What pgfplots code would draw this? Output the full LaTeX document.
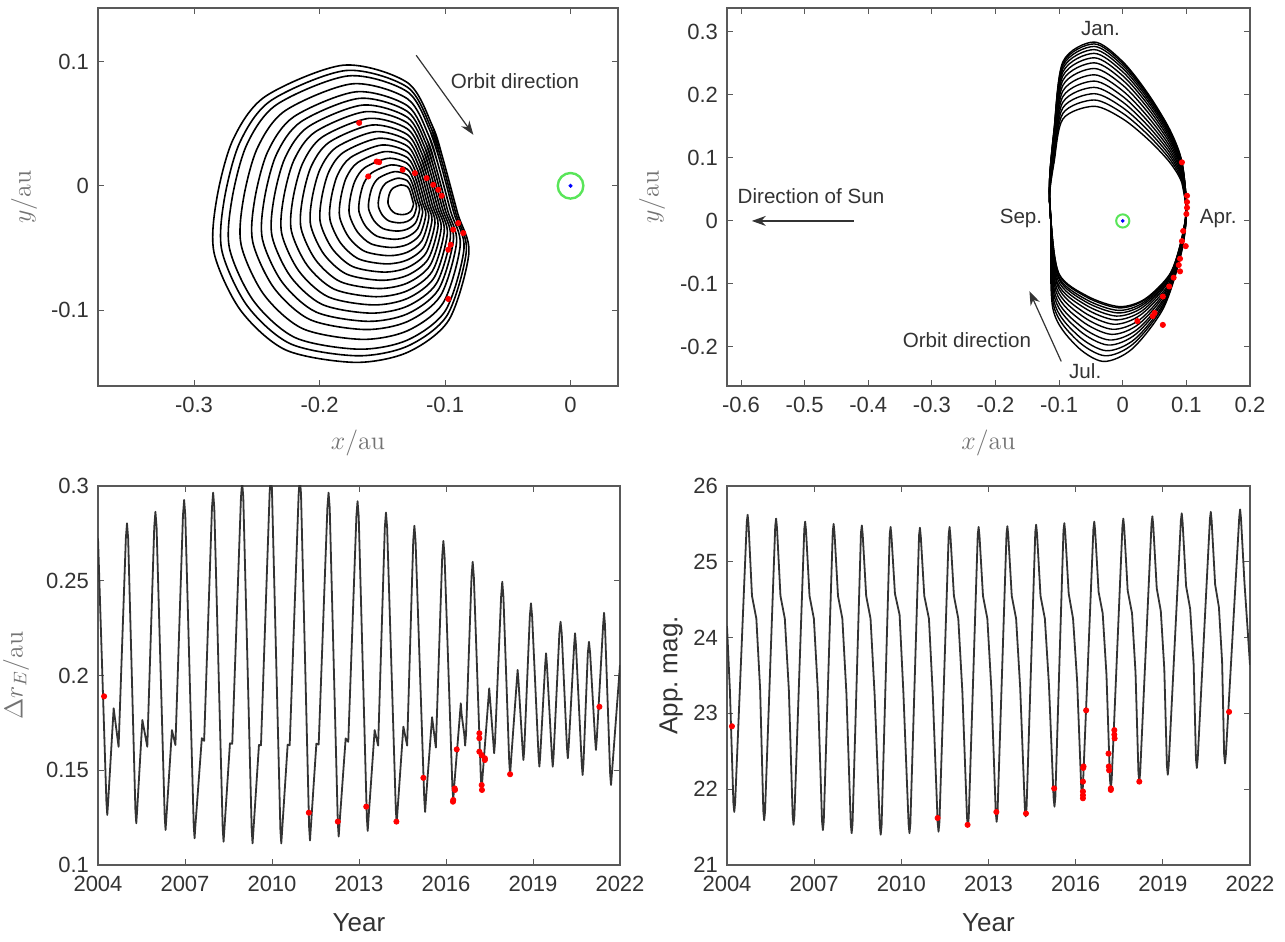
\RequirePackage{fix-cm}
\documentclass[border=0pt]{standalone}
\usepackage{fontspec}
\newfontfamily\arial{Liberation Sans}
\usepackage{pgfplots}
\pgfplotsset{compat=1.18}
\usetikzlibrary{arrows.meta}

\definecolor{axgray}{gray}{0.35}
\definecolor{txt}{gray}{0.2}
\definecolor{labgray}{gray}{0.45}
\definecolor{hill}{rgb}{0.35,0.9,0.35}

\tikzset{
  ann/.style={font=\arial\fontsize{10.3}{12}\selectfont, text=txt},
  arr/.style={txt, line width=0.6pt, -{Stealth[length=7pt,width=5pt]}},
}
\pgfplotsset{
  myaxis/.style={
    scale only axis,
    anchor=south west,
    axis line style={axgray, line width=0.6pt},
    tick style={axgray, line width=0.5pt},
    major tick length=3pt,
    tick align=inside,
    ticklabel style={font=\arial\fontsize{11}{12}\selectfont, text=txt},
    /pgf/number format/assume math mode=true,
    scaled ticks=false,
    xticklabel style={yshift=-2pt},
    yticklabel style={xshift=-1pt},
    label style={font=\fontsize{13}{15}\selectfont, text=labgray},
  },
  obs/.style={only marks, mark=*, mark size=1.3pt, red, mark options={draw=red, fill=red}},
}

\begin{document}
\begin{tikzpicture}
\useasboundingbox (0,0) rectangle (642.5pt,471pt);

% ---------------- Top left ----------------
\begin{axis}[myaxis, at={(49pt,278pt)}, width=260pt, height=189pt,
  xmin=-0.3765, xmax=0.0378, ymin=-0.161, ymax=0.143,
  xtick={-0.3,-0.2,-0.1,0}, ytick={-0.1,0,0.1},
  xlabel={$x/\mathrm{au}$}, ylabel={$y/\mathrm{au}$},
  xlabel style={at={(axis description cs:0.5,-0.151)}, anchor=center},
  ylabel style={at={(axis description cs:-0.142,0.5)}, anchor=center}]
\addplot[smooth, black, line width=0.8pt] coordinates {(-0.110,0.048) (-0.102,0.023) (-0.090,-0.022) (-0.081,-0.054) (-0.097,-0.108) (-0.130,-0.134) (-0.172,-0.142) (-0.227,-0.132) (-0.263,-0.100) (-0.284,-0.054) (-0.282,-0.011) (-0.269,0.037) (-0.243,0.072) (-0.181,0.097) (-0.130,0.083) (-0.110,0.048) (-0.102,0.023) (-0.090,-0.022)};
\addplot[smooth, black, line width=0.8pt] coordinates {(-0.1108,0.0457) (-0.1031,0.0217) (-0.0916,-0.0215) (-0.0830,-0.0522) (-0.0983,-0.1041) (-0.1300,-0.1290) (-0.1703,-0.1367) (-0.2231,-0.1271) (-0.2577,-0.0964) (-0.2778,-0.0522) (-0.2759,-0.0110) (-0.2634,0.0351) (-0.2385,0.0687) (-0.1790,0.0927) (-0.1300,0.0793) (-0.1108,0.0457) (-0.1031,0.0217) (-0.0916,-0.0215)};
\addplot[smooth, black, line width=0.8pt] coordinates {(-0.1116,0.0434) (-0.1042,0.0204) (-0.0932,-0.0210) (-0.0849,-0.0505) (-0.0996,-0.1002) (-0.1300,-0.1241) (-0.1686,-0.1314) (-0.2192,-0.1222) (-0.2524,-0.0928) (-0.2717,-0.0505) (-0.2698,-0.0109) (-0.2579,0.0332) (-0.2340,0.0654) (-0.1769,0.0884) (-0.1300,0.0756) (-0.1116,0.0434) (-0.1042,0.0204) (-0.0932,-0.0210)};
\addplot[smooth, black, line width=0.8pt] coordinates {(-0.1128,0.0399) (-0.1059,0.0184) (-0.0956,-0.0203) (-0.0879,-0.0478) (-0.1016,-0.0943) (-0.1300,-0.1166) (-0.1661,-0.1235) (-0.2134,-0.1149) (-0.2444,-0.0874) (-0.2624,-0.0478) (-0.2607,-0.0109) (-0.2495,0.0304) (-0.2272,0.0605) (-0.1739,0.0820) (-0.1300,0.0700) (-0.1128,0.0399) (-0.1059,0.0184) (-0.0956,-0.0203)};
\addplot[smooth, black, line width=0.8pt] coordinates {(-0.1140,0.0364) (-0.1076,0.0164) (-0.0980,-0.0196) (-0.0908,-0.0452) (-0.1036,-0.0884) (-0.1300,-0.1092) (-0.1636,-0.1156) (-0.2076,-0.1076) (-0.2364,-0.0820) (-0.2532,-0.0452) (-0.2516,-0.0108) (-0.2412,0.0276) (-0.2204,0.0556) (-0.1708,0.0756) (-0.1300,0.0644) (-0.1140,0.0364) (-0.1076,0.0164) (-0.0980,-0.0196)};
\addplot[smooth, black, line width=0.8pt] coordinates {(-0.1150,0.0335) (-0.1090,0.0148) (-0.1000,-0.0190) (-0.0933,-0.0430) (-0.1053,-0.0835) (-0.1300,-0.1030) (-0.1615,-0.1090) (-0.2028,-0.1015) (-0.2298,-0.0775) (-0.2455,-0.0430) (-0.2440,-0.0108) (-0.2343,0.0253) (-0.2148,0.0515) (-0.1683,0.0703) (-0.1300,0.0598) (-0.1150,0.0335) (-0.1090,0.0148) (-0.1000,-0.0190)};
\addplot[smooth, black, line width=0.8pt] coordinates {(-0.1160,0.0306) (-0.1104,0.0131) (-0.1020,-0.0184) (-0.0957,-0.0408) (-0.1069,-0.0786) (-0.1300,-0.0968) (-0.1594,-0.1024) (-0.1979,-0.0954) (-0.2231,-0.0730) (-0.2378,-0.0408) (-0.2364,-0.0107) (-0.2273,0.0229) (-0.2091,0.0474) (-0.1657,0.0649) (-0.1300,0.0551) (-0.1160,0.0306) (-0.1104,0.0131) (-0.1020,-0.0184)};
\addplot[smooth, black, line width=0.8pt] coordinates {(-0.1170,0.0277) (-0.1118,0.0115) (-0.1040,-0.0178) (-0.0982,-0.0386) (-0.1086,-0.0737) (-0.1300,-0.0906) (-0.1573,-0.0958) (-0.1931,-0.0893) (-0.2165,-0.0685) (-0.2301,-0.0386) (-0.2288,-0.0107) (-0.2204,0.0206) (-0.2035,0.0433) (-0.1632,0.0596) (-0.1300,0.0505) (-0.1170,0.0277) (-0.1118,0.0115) (-0.1040,-0.0178)};
\addplot[smooth, black, line width=0.8pt] coordinates {(-0.1180,0.0248) (-0.1132,0.0098) (-0.1060,-0.0172) (-0.1006,-0.0364) (-0.1102,-0.0688) (-0.1300,-0.0844) (-0.1552,-0.0892) (-0.1882,-0.0832) (-0.2098,-0.0640) (-0.2224,-0.0364) (-0.2212,-0.0106) (-0.2134,0.0182) (-0.1978,0.0392) (-0.1606,0.0542) (-0.1300,0.0458) (-0.1180,0.0248) (-0.1132,0.0098) (-0.1060,-0.0172)};
\addplot[smooth, black, line width=0.8pt] coordinates {(-0.1190,0.0219) (-0.1146,0.0082) (-0.1080,-0.0166) (-0.1031,-0.0342) (-0.1119,-0.0639) (-0.1300,-0.0782) (-0.1531,-0.0826) (-0.1834,-0.0771) (-0.2032,-0.0595) (-0.2147,-0.0342) (-0.2136,-0.0106) (-0.2065,0.0159) (-0.1922,0.0351) (-0.1581,0.0489) (-0.1300,0.0412) (-0.1190,0.0219) (-0.1146,0.0082) (-0.1080,-0.0166)};
\addplot[smooth, black, line width=0.8pt] coordinates {(-0.1200,0.0190) (-0.1160,0.0065) (-0.1100,-0.0160) (-0.1055,-0.0320) (-0.1135,-0.0590) (-0.1300,-0.0720) (-0.1510,-0.0760) (-0.1785,-0.0710) (-0.1965,-0.0550) (-0.2070,-0.0320) (-0.2060,-0.0105) (-0.1995,0.0135) (-0.1865,0.0310) (-0.1555,0.0435) (-0.1300,0.0365) (-0.1200,0.0190) (-0.1160,0.0065) (-0.1100,-0.0160)};
\addplot[smooth, black, line width=0.8pt] coordinates {(-0.1210,0.0161) (-0.1174,0.0049) (-0.1120,-0.0154) (-0.1080,-0.0298) (-0.1152,-0.0541) (-0.1300,-0.0658) (-0.1489,-0.0694) (-0.1737,-0.0649) (-0.1899,-0.0505) (-0.1993,-0.0298) (-0.1984,-0.0105) (-0.1926,0.0112) (-0.1809,0.0269) (-0.1530,0.0382) (-0.1300,0.0319) (-0.1210,0.0161) (-0.1174,0.0049) (-0.1120,-0.0154)};
\addplot[smooth, black, line width=0.8pt] coordinates {(-0.1220,0.0132) (-0.1188,0.0032) (-0.1140,-0.0148) (-0.1104,-0.0276) (-0.1168,-0.0492) (-0.1300,-0.0596) (-0.1468,-0.0628) (-0.1688,-0.0588) (-0.1832,-0.0460) (-0.1916,-0.0276) (-0.1908,-0.0104) (-0.1856,0.0088) (-0.1752,0.0228) (-0.1504,0.0328) (-0.1300,0.0272) (-0.1220,0.0132) (-0.1188,0.0032) (-0.1140,-0.0148)};
\addplot[smooth, black, line width=0.8pt] coordinates {(-0.1230,0.0103) (-0.1202,0.0016) (-0.1160,-0.0142) (-0.1129,-0.0254) (-0.1185,-0.0443) (-0.1300,-0.0534) (-0.1447,-0.0562) (-0.1640,-0.0527) (-0.1766,-0.0415) (-0.1839,-0.0254) (-0.1832,-0.0104) (-0.1787,0.0065) (-0.1696,0.0187) (-0.1479,0.0275) (-0.1300,0.0226) (-0.1230,0.0103) (-0.1202,0.0016) (-0.1160,-0.0142)};
\addplot[smooth, black, line width=0.8pt] coordinates {(-0.1240,0.0074) (-0.1216,-0.0001) (-0.1180,-0.0136) (-0.1153,-0.0232) (-0.1201,-0.0394) (-0.1300,-0.0472) (-0.1426,-0.0496) (-0.1591,-0.0466) (-0.1699,-0.0370) (-0.1762,-0.0232) (-0.1756,-0.0103) (-0.1717,0.0041) (-0.1639,0.0146) (-0.1453,0.0221) (-0.1300,0.0179) (-0.1240,0.0074) (-0.1216,-0.0001) (-0.1180,-0.0136)};
\addplot[smooth, black, line width=0.8pt] coordinates {(-0.1250,0.0045) (-0.1230,-0.0018) (-0.1200,-0.0130) (-0.1178,-0.0210) (-0.1218,-0.0345) (-0.1300,-0.0410) (-0.1405,-0.0430) (-0.1543,-0.0405) (-0.1633,-0.0325) (-0.1685,-0.0210) (-0.1680,-0.0103) (-0.1648,0.0018) (-0.1583,0.0105) (-0.1428,0.0168) (-0.1300,0.0133) (-0.1250,0.0045) (-0.1230,-0.0018) (-0.1200,-0.0130)};
\addplot[smooth, black, line width=0.8pt] coordinates {(-0.1260,0.0016) (-0.1244,-0.0034) (-0.1220,-0.0124) (-0.1202,-0.0188) (-0.1234,-0.0296) (-0.1300,-0.0348) (-0.1384,-0.0364) (-0.1494,-0.0344) (-0.1566,-0.0280) (-0.1608,-0.0188) (-0.1604,-0.0102) (-0.1578,-0.0006) (-0.1526,0.0064) (-0.1402,0.0114) (-0.1300,0.0086) (-0.1260,0.0016) (-0.1244,-0.0034) (-0.1220,-0.0124)};
\addplot[smooth, black, line width=0.8pt] coordinates {(-0.1270,-0.0013) (-0.1258,-0.0051) (-0.1240,-0.0118) (-0.1227,-0.0166) (-0.1251,-0.0247) (-0.1300,-0.0286) (-0.1363,-0.0298) (-0.1446,-0.0283) (-0.1500,-0.0235) (-0.1531,-0.0166) (-0.1528,-0.0102) (-0.1509,-0.0031) (-0.1470,0.0023) (-0.1377,0.0061) (-0.1300,0.0040) (-0.1270,-0.0013) (-0.1258,-0.0051) (-0.1240,-0.0118)};
\addplot[smooth, black, line width=0.8pt] coordinates {(-0.1280,-0.0042) (-0.1272,-0.0067) (-0.1260,-0.0112) (-0.1251,-0.0144) (-0.1267,-0.0198) (-0.1300,-0.0224) (-0.1342,-0.0232) (-0.1397,-0.0222) (-0.1433,-0.0190) (-0.1454,-0.0144) (-0.1452,-0.0101) (-0.1439,-0.0053) (-0.1413,-0.0018) (-0.1351,0.0007) (-0.1300,-0.0007) (-0.1280,-0.0042) (-0.1272,-0.0067) (-0.1260,-0.0112)};
\addplot[obs] coordinates {(-0.1684,0.0506) (-0.1545,0.0195) (-0.1525,0.0190) (-0.1612,0.0075) (-0.1338,0.0129) (-0.1240,0.0102) (-0.1147,0.0062) (-0.1094,0.0008) (-0.1054,-0.0032) (-0.1027,-0.0080) (-0.0895,-0.0300) (-0.0935,-0.0353) (-0.0855,-0.0380) (-0.0955,-0.0474) (-0.0974,-0.0514) (-0.0974,-0.0910)};
\addplot[only marks, mark=o, mark size=6.4pt, hill, mark options={line width=1.2pt}] coordinates {(0,0)};
\addplot[only marks, mark=*, mark size=0.8pt, blue] coordinates {(0,0)};
\draw[arr] (axis cs:-0.123,0.105) -- (axis cs:-0.0774,0.041);
\node[ann] at (axis cs:-0.0443,0.0838) {Orbit direction};
\end{axis}

% ---------------- Top right ----------------
\begin{axis}[myaxis, at={(363.5pt,278pt)}, width=261.5pt, height=189pt,
  xmin=-0.622, xmax=0.2, ymin=-0.262, ymax=0.338,
  xtick={-0.6,-0.5,-0.4,-0.3,-0.2,-0.1,0,0.1,0.2}, ytick={-0.2,-0.1,0,0.1,0.2,0.3},
  xlabel={$x/\mathrm{au}$}, ylabel={$y/\mathrm{au}$},
  xlabel style={at={(axis description cs:0.5,-0.151)}, anchor=center},
  ylabel style={at={(axis description cs:-0.143,0.5)}, anchor=center}]
\addplot[smooth, black, line width=0.7pt] coordinates {(0.092,-0.0513) (0.100,0.0127) (0.093,0.0601) (0.074,0.0928) (0.040,0.1292) (0.000,0.1620) (-0.045,0.1820) (-0.094,0.1620) (-0.108,0.0928) (-0.115,0.0419) (-0.113,0.0) (-0.110,-0.1383) (-0.075,-0.1962) (-0.031,-0.2230) (0.015,-0.2029) (0.064,-0.1383) (0.092,-0.0513) (0.100,0.0127) (0.093,0.0601)};
\addplot[smooth, black, line width=0.7pt] coordinates {(0.092,-0.0492) (0.100,0.0134) (0.093,0.0634) (0.074,0.0979) (0.040,0.1363) (0.000,0.1709) (-0.045,0.1920) (-0.094,0.1709) (-0.108,0.0979) (-0.115,0.0442) (-0.113,0.0) (-0.109,-0.1327) (-0.073,-0.1883) (-0.028,-0.2140) (0.017,-0.1947) (0.065,-0.1327) (0.092,-0.0492) (0.100,0.0134) (0.093,0.0634)};
\addplot[smooth, black, line width=0.7pt] coordinates {(0.092,-0.0474) (0.100,0.0141) (0.093,0.0667) (0.074,0.1030) (0.040,0.1434) (0.000,0.1798) (-0.045,0.2020) (-0.094,0.1798) (-0.108,0.1030) (-0.115,0.0465) (-0.113,0.0) (-0.108,-0.1277) (-0.071,-0.1813) (-0.026,-0.2060) (0.019,-0.1875) (0.066,-0.1277) (0.092,-0.0474) (0.100,0.0141) (0.093,0.0667)};
\addplot[smooth, black, line width=0.7pt] coordinates {(0.092,-0.0453) (0.100,0.0148) (0.093,0.0700) (0.074,0.1081) (0.040,0.1505) (0.000,0.1887) (-0.045,0.2120) (-0.094,0.1887) (-0.108,0.1081) (-0.115,0.0488) (-0.113,0.0) (-0.107,-0.1221) (-0.069,-0.1734) (-0.023,-0.1970) (0.021,-0.1793) (0.067,-0.1221) (0.092,-0.0453) (0.100,0.0148) (0.093,0.0700)};
\addplot[smooth, black, line width=0.7pt] coordinates {(0.092,-0.0435) (0.100,0.0155) (0.093,0.0733) (0.074,0.1132) (0.040,0.1576) (0.000,0.1976) (-0.045,0.2220) (-0.094,0.1976) (-0.108,0.1132) (-0.115,0.0511) (-0.113,0.0) (-0.106,-0.1172) (-0.067,-0.1663) (-0.021,-0.1890) (0.023,-0.1720) (0.068,-0.1172) (0.092,-0.0435) (0.100,0.0155) (0.093,0.0733)};
\addplot[smooth, black, line width=0.7pt] coordinates {(0.092,-0.0414) (0.100,0.0162) (0.093,0.0766) (0.074,0.1183) (0.040,0.1647) (0.000,0.2065) (-0.045,0.2320) (-0.094,0.2065) (-0.108,0.1183) (-0.115,0.0534) (-0.113,0.0) (-0.105,-0.1116) (-0.065,-0.1584) (-0.018,-0.1800) (0.025,-0.1638) (0.069,-0.1116) (0.092,-0.0414) (0.100,0.0162) (0.093,0.0766)};
\addplot[smooth, black, line width=0.7pt] coordinates {(0.092,-0.0396) (0.100,0.0169) (0.093,0.0799) (0.074,0.1234) (0.040,0.1718) (0.000,0.2154) (-0.045,0.2420) (-0.094,0.2154) (-0.108,0.1234) (-0.115,0.0557) (-0.113,0.0) (-0.104,-0.1066) (-0.063,-0.1514) (-0.016,-0.1720) (0.027,-0.1565) (0.070,-0.1066) (0.092,-0.0396) (0.100,0.0169) (0.093,0.0799)};
\addplot[smooth, black, line width=0.7pt] coordinates {(0.092,-0.0377) (0.100,0.0176) (0.093,0.0828) (0.074,0.1280) (0.040,0.1782) (0.000,0.2234) (-0.045,0.2510) (-0.094,0.2234) (-0.108,0.1280) (-0.115,0.0577) (-0.113,0.0) (-0.103,-0.1017) (-0.062,-0.1443) (-0.014,-0.1640) (0.028,-0.1492) (0.071,-0.1017) (0.092,-0.0377) (0.100,0.0176) (0.093,0.0828)};
\addplot[smooth, black, line width=0.7pt] coordinates {(0.092,-0.0361) (0.100,0.0181) (0.093,0.0855) (0.074,0.1321) (0.040,0.1839) (0.000,0.2305) (-0.045,0.2590) (-0.094,0.2305) (-0.108,0.1321) (-0.115,0.0596) (-0.113,0.0) (-0.103,-0.0973) (-0.060,-0.1382) (-0.012,-0.1570) (0.030,-0.1429) (0.071,-0.0973) (0.092,-0.0361) (0.100,0.0181) (0.093,0.0855)};
\addplot[smooth, black, line width=0.7pt] coordinates {(0.092,-0.0347) (0.100,0.0186) (0.093,0.0878) (0.074,0.1357) (0.040,0.1889) (0.000,0.2367) (-0.045,0.2660) (-0.094,0.2367) (-0.108,0.1357) (-0.115,0.0612) (-0.113,0.0) (-0.102,-0.0936) (-0.059,-0.1329) (-0.010,-0.1510) (0.031,-0.1374) (0.072,-0.0936) (0.092,-0.0347) (0.100,0.0186) (0.093,0.0878)};
\addplot[smooth, black, line width=0.7pt] coordinates {(0.092,-0.0336) (0.100,0.0190) (0.093,0.0898) (0.074,0.1387) (0.040,0.1931) (0.000,0.2421) (-0.045,0.2720) (-0.094,0.2421) (-0.108,0.1387) (-0.115,0.0626) (-0.113,0.0) (-0.101,-0.0905) (-0.058,-0.1285) (-0.008,-0.1460) (0.032,-0.1329) (0.073,-0.0905) (0.092,-0.0336) (0.100,0.0190) (0.093,0.0898)};
\addplot[smooth, black, line width=0.7pt] coordinates {(0.092,-0.0327) (0.100,0.0194) (0.093,0.0914) (0.074,0.1413) (0.040,0.1967) (0.000,0.2465) (-0.045,0.2770) (-0.094,0.2465) (-0.108,0.1413) (-0.115,0.0637) (-0.113,0.0) (-0.101,-0.0880) (-0.057,-0.1250) (-0.007,-0.1420) (0.033,-0.1292) (0.073,-0.0880) (0.092,-0.0327) (0.100,0.0194) (0.093,0.0914)};
\addplot[smooth, black, line width=0.7pt] coordinates {(0.092,-0.0317) (0.100,0.0197) (0.093,0.0927) (0.074,0.1433) (0.040,0.1995) (0.000,0.2501) (-0.045,0.2810) (-0.094,0.2501) (-0.108,0.1433) (-0.115,0.0646) (-0.113,0.0) (-0.100,-0.0856) (-0.056,-0.1214) (-0.006,-0.1380) (0.034,-0.1256) (0.074,-0.0856) (0.092,-0.0317) (0.100,0.0197) (0.093,0.0927)};
\addplot[smooth, black, line width=0.7pt] coordinates {(0.092,-0.0313) (0.100,0.0199) (0.093,0.0937) (0.074,0.1448) (0.040,0.2016) (0.000,0.2528) (-0.045,0.2840) (-0.094,0.2528) (-0.108,0.1448) (-0.115,0.0653) (-0.113,0.0) (-0.100,-0.0843) (-0.055,-0.1197) (-0.005,-0.1360) (0.035,-0.1238) (0.074,-0.0843) (0.092,-0.0313) (0.100,0.0199) (0.093,0.0937)};
\addplot[obs] coordinates {(0.093,0.093) (0.101,0.040) (0.101,0.030) (0.101,0.021) (0.100,0.011) (0.095,-0.016) (0.093,-0.032) (0.099,-0.040) (0.090,-0.060) (0.088,-0.070) (0.090,-0.080) (0.080,-0.090) (0.073,-0.104) (0.063,-0.120) (0.050,-0.146) (0.047,-0.151) (0.023,-0.159) (0.063,-0.165)};
\addplot[only marks, mark=o, mark size=3.3pt, hill, mark options={line width=1pt}] coordinates {(0,0)};
\addplot[only marks, mark=*, mark size=0.7pt, blue] coordinates {(0,0)};
\draw[arr] (axis cs:-0.423,0.0) -- (axis cs:-0.583,0.0);
\node[ann] at (axis cs:-0.49,0.040) {Direction of Sun};
\draw[arr] (axis cs:-0.0967,-0.223) -- (axis cs:-0.1467,-0.1115);
\node[ann] at (axis cs:-0.245,-0.1885) {Orbit direction};
\node[ann] at (axis cs:-0.035,0.305) {Jan.};
\node[ann] at (axis cs:-0.160,0.004) {Sep.};
\node[ann] at (axis cs:0.150,0.003) {Apr.};
\node[ann] at (axis cs:-0.059,-0.238) {Jul.};
\end{axis}

% ---------------- Bottom left ----------------
\begin{axis}[myaxis, at={(49pt,38.5pt)}, width=261pt, height=189.5pt,
  xmin=2004, xmax=2022, ymin=0.1, ymax=0.3,
  xtick={2004,2007,2010,2013,2016,2019,2022}, ytick={0.1,0.15,0.2,0.25,0.3},
  xticklabel style={/pgf/number format/1000 sep={}},
  xlabel={\arial Year}, ylabel={$\Delta r_E/\mathrm{au}$},
  xlabel style={at={(axis description cs:0.5,-0.153)}, anchor=center, text=txt},
  ylabel style={at={(axis description cs:-0.157,0.5)}, anchor=center}]
\addplot[black!80, line width=0.9pt, line join=round] coordinates {
(2004.00,0.2724)
(2004.29,0.1334) (2004.32,0.1264) (2004.35,0.1334) (2004.54,0.1827) (2004.71,0.1624) (2004.96,0.2723) (2005.00,0.2803) (2005.04,0.2723)
(2005.29,0.1290) (2005.32,0.1220) (2005.35,0.1290) (2005.53,0.1765) (2005.70,0.1624) (2005.94,0.2784) (2005.98,0.2864) (2006.02,0.2784)
(2006.30,0.1255) (2006.33,0.1185) (2006.36,0.1255) (2006.55,0.1712) (2006.67,0.1633) (2006.93,0.2846) (2006.97,0.2926) (2007.01,0.2846)
(2007.30,0.1211) (2007.33,0.1141) (2007.36,0.1211) (2007.58,0.1669) (2007.66,0.1655) (2007.93,0.2885) (2007.97,0.2965) (2008.01,0.2885)
(2008.30,0.1193) (2008.33,0.1123) (2008.36,0.1193) (2008.55,0.1642) (2008.63,0.1640) (2008.93,0.2940) (2008.97,0.3020) (2009.01,0.2940)
(2009.30,0.1184) (2009.33,0.1114) (2009.36,0.1184) (2009.55,0.1633) (2009.62,0.1632) (2009.92,0.2970) (2009.96,0.3050) (2010.00,0.2970)
(2010.29,0.1184) (2010.32,0.1114) (2010.35,0.1184) (2010.54,0.1635) (2010.61,0.1632) (2010.92,0.2960) (2010.96,0.3040) (2011.00,0.2960)
(2011.28,0.1200) (2011.31,0.1130) (2011.34,0.1200) (2011.53,0.1640) (2011.61,0.1636) (2011.91,0.2885) (2011.95,0.2965) (2011.99,0.2885)
(2012.27,0.1220) (2012.30,0.1150) (2012.33,0.1220) (2012.54,0.1668) (2012.63,0.1650) (2012.91,0.2840) (2012.95,0.2920) (2012.99,0.2840)
(2013.27,0.1250) (2013.30,0.1180) (2013.33,0.1250) (2013.54,0.1712) (2013.66,0.1630) (2013.89,0.2780) (2013.93,0.2860) (2013.97,0.2780)
(2014.27,0.1290) (2014.30,0.1220) (2014.33,0.1290) (2014.53,0.1730) (2014.66,0.1630) (2014.87,0.2710) (2014.91,0.2790) (2014.95,0.2710)
(2015.25,0.1350) (2015.28,0.1280) (2015.31,0.1350) (2015.52,0.1780) (2015.65,0.1620) (2015.87,0.2630) (2015.91,0.2710) (2015.95,0.2630)
(2016.22,0.1413) (2016.25,0.1343) (2016.28,0.1413) (2016.48,0.1793) (2016.51,0.1853) (2016.54,0.1793) (2016.63,0.1690) (2016.66,0.1630) (2016.69,0.1690) (2016.88,0.2520) (2016.92,0.2600) (2016.96,0.2520)
(2017.20,0.1466) (2017.23,0.1396) (2017.26,0.1466) (2017.46,0.1872) (2017.49,0.1932) (2017.52,0.1872) (2017.63,0.1650) (2017.66,0.1590) (2017.69,0.1650) (2017.90,0.2415) (2017.94,0.2495) (2017.98,0.2415)
(2018.18,0.1545) (2018.21,0.1475) (2018.24,0.1545) (2018.44,0.1969) (2018.47,0.2029) (2018.50,0.1969) (2018.64,0.1614) (2018.67,0.1554) (2018.70,0.1614) (2018.89,0.2311) (2018.93,0.2381) (2018.97,0.2311)
(2019.19,0.1579) (2019.22,0.1519) (2019.25,0.1579) (2019.42,0.2057) (2019.45,0.2117) (2019.48,0.2057) (2019.65,0.1579) (2019.68,0.1519) (2019.71,0.1579) (2019.91,0.2224) (2019.95,0.2284) (2019.99,0.2224)
(2020.17,0.1623) (2020.20,0.1563) (2020.23,0.1623) (2020.42,0.2163) (2020.45,0.2223) (2020.48,0.2163) (2020.68,0.1535) (2020.71,0.1475) (2020.74,0.1535) (2020.89,0.2118) (2020.93,0.2178) (2020.97,0.2118)
(2021.14,0.1667) (2021.17,0.1607) (2021.20,0.1667) (2021.42,0.2271) (2021.45,0.2331) (2021.48,0.2271) (2021.66,0.1482) (2021.69,0.1422) (2021.72,0.1482) (2022.00,0.2055)
};
\addplot[obs] coordinates {(2004.21,0.189) (2011.27,0.1276) (2012.27,0.1229) (2013.25,0.1308) (2014.29,0.1229) (2015.22,0.146) (2016.25,0.1343) (2016.24,0.1334) (2016.31,0.1396) (2016.30,0.1404) (2016.37,0.161) (2017.15,0.1695) (2017.15,0.1669) (2017.15,0.1598) (2017.23,0.158) (2017.34,0.1563) (2017.34,0.1554) (2017.23,0.1422) (2017.24,0.1396) (2018.21,0.1479) (2021.29,0.1835)};
\end{axis}

% ---------------- Bottom right ----------------
\begin{axis}[myaxis, at={(363.5pt,38.5pt)}, width=261.5pt, height=189.5pt,
  xmin=2004, xmax=2022, ymin=21, ymax=26,
  xtick={2004,2007,2010,2013,2016,2019,2022}, ytick={21,22,23,24,25,26},
  xticklabel style={/pgf/number format/1000 sep={}},
  xlabel={\arial Year}, ylabel={\arial App.\ mag.},
  xlabel style={at={(axis description cs:0.5,-0.153)}, anchor=center, text=txt},
  ylabel style={at={(axis description cs:-0.107,0.5)}, anchor=center, text=txt}]
\addplot[black!80, line width=0.9pt, line join=round] coordinates {
(2004.00,24.15) (2004.10,23.30)
(2004.22,21.82) (2004.25,21.70) (2004.28,21.82) (2004.68,25.52) (2004.71,25.62) (2004.74,25.50) (2004.86,24.55) (2005.01,24.25) (2005.14,23.32)
(2005.25,21.71) (2005.28,21.59) (2005.31,21.71) (2005.66,25.47) (2005.69,25.57) (2005.72,25.45) (2005.84,24.55) (2005.99,24.25) (2006.13,23.30)
(2006.26,21.65) (2006.29,21.53) (2006.32,21.65) (2006.66,25.43) (2006.69,25.53) (2006.72,25.41) (2006.84,24.55) (2006.99,24.25) (2007.13,23.27)
(2007.27,21.58) (2007.30,21.46) (2007.33,21.58) (2007.64,25.40) (2007.67,25.50) (2007.70,25.38) (2007.82,24.55) (2007.97,24.25) (2008.11,23.26)
(2008.26,21.54) (2008.29,21.42) (2008.32,21.54) (2008.61,25.38) (2008.64,25.48) (2008.67,25.36) (2008.79,24.55) (2008.94,24.25) (2009.08,23.25)
(2009.26,21.52) (2009.29,21.40) (2009.32,21.52) (2009.60,25.36) (2009.63,25.46) (2009.66,25.34) (2009.78,24.58) (2009.94,24.30) (2010.07,23.28)
(2010.25,21.54) (2010.28,21.42) (2010.31,21.54) (2010.61,25.35) (2010.64,25.45) (2010.67,25.33) (2010.79,24.55) (2010.95,24.25) (2011.08,23.27)
(2011.25,21.56) (2011.28,21.44) (2011.31,21.56) (2011.63,25.36) (2011.66,25.46) (2011.69,25.34) (2011.81,24.55) (2011.96,24.25) (2012.10,23.29)
(2012.26,21.63) (2012.29,21.51) (2012.32,21.63) (2012.63,25.36) (2012.66,25.46) (2012.69,25.34) (2012.81,24.55) (2012.96,24.25) (2013.10,23.31)
(2013.25,21.69) (2013.28,21.57) (2013.31,21.69) (2013.62,25.37) (2013.65,25.47) (2013.68,25.35) (2013.80,24.55) (2013.95,24.25) (2014.09,23.34)
(2014.25,21.76) (2014.28,21.64) (2014.31,21.76) (2014.61,25.39) (2014.64,25.49) (2014.67,25.37) (2014.79,24.55) (2014.94,24.25) (2015.08,23.38)
(2015.24,21.89) (2015.27,21.77) (2015.30,21.89) (2015.58,25.41) (2015.61,25.51) (2015.64,25.39) (2015.76,24.58) (2015.91,24.25) (2016.05,23.43)
(2016.19,22.04) (2016.22,21.92) (2016.25,22.04) (2016.61,25.43) (2016.64,25.53) (2016.67,25.41) (2016.79,24.60) (2016.93,24.32) (2017.06,23.51)
(2017.18,22.13) (2017.21,22.01) (2017.24,22.13) (2017.61,25.47) (2017.64,25.57) (2017.67,25.45) (2017.79,24.62) (2017.94,24.32) (2018.06,23.54)
(2018.16,22.22) (2018.19,22.10) (2018.22,22.22) (2018.61,25.50) (2018.64,25.60) (2018.67,25.48) (2018.79,24.65) (2018.93,24.35) (2019.05,23.59)
(2019.14,22.31) (2019.17,22.19) (2019.20,22.31) (2019.62,25.54) (2019.65,25.64) (2019.68,25.52) (2019.80,24.68) (2019.94,24.38) (2020.06,23.65)
(2020.14,22.40) (2020.17,22.28) (2020.20,22.40) (2020.62,25.56) (2020.65,25.66) (2020.68,25.54) (2020.80,24.70) (2020.93,24.40) (2021.04,23.68)
(2021.11,22.46) (2021.14,22.34) (2021.17,22.46) (2021.63,25.59) (2021.66,25.69) (2021.69,25.57) (2021.81,24.72) (2022.00,23.64)
};
\addplot[obs] coordinates {(2004.17,22.83) (2011.25,21.62) (2012.28,21.53) (2013.27,21.70) (2014.29,21.68) (2015.26,22.01) (2016.25,21.88) (2016.25,21.92) (2016.25,21.97) (2016.25,22.10) (2016.26,22.28) (2016.27,22.30) (2016.36,23.04) (2017.13,22.47) (2017.14,22.30) (2017.15,22.25) (2017.21,21.99) (2017.21,22.01) (2017.33,22.78) (2017.33,22.72) (2017.34,22.67) (2018.19,22.10) (2021.28,23.02)};
\end{axis}
\end{tikzpicture}
\end{document}
